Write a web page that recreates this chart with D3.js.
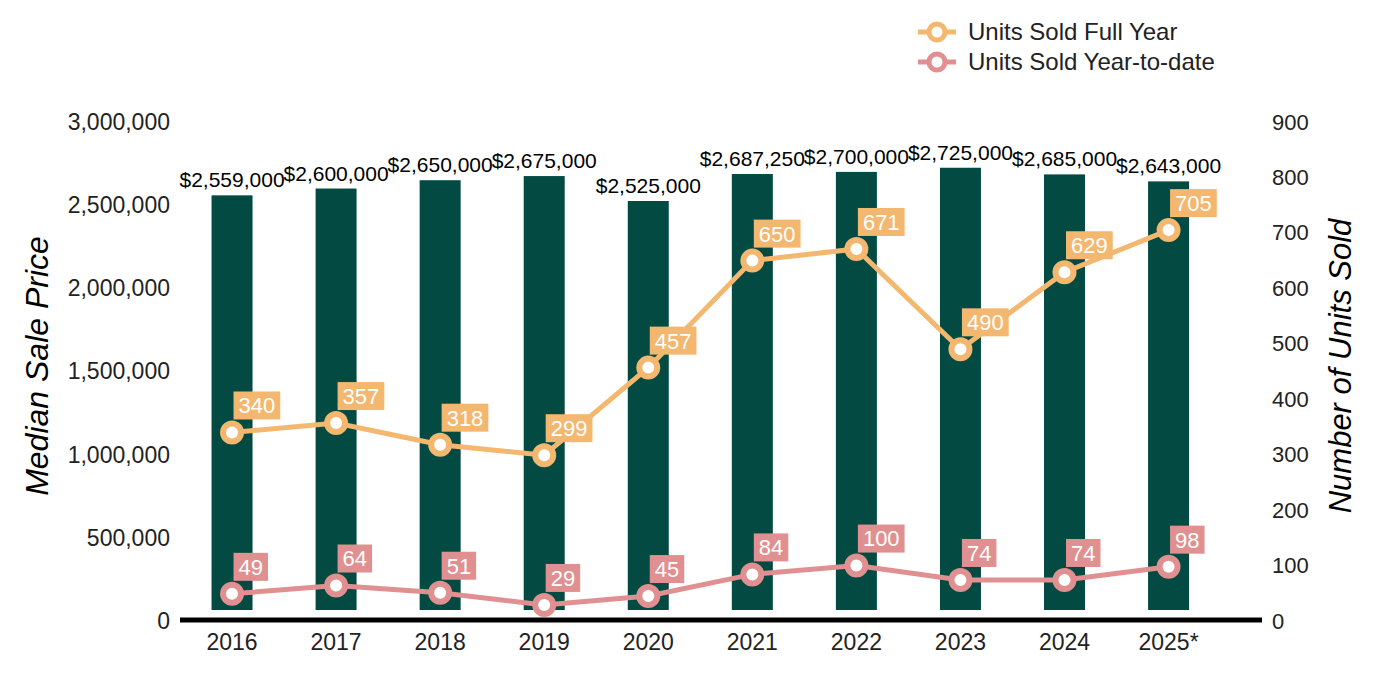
<!DOCTYPE html>
<html>
<head>
<meta charset="utf-8">
<script src="https://cdn.jsdelivr.net/npm/d3@7"></script>
<style>
  body { margin: 0; background: #fff; }
  text { font-family: "Liberation Sans", Arial, sans-serif; }
</style>
</head>
<body>
<div class="chart"></div>
<script>
// data
var years = ["2016", "2017", "2018", "2019", "2020", "2021", "2022", "2023", "2024", "2025*"];
var medianPrice = [2559000, 2600000, 2650000, 2675000, 2525000, 2687250, 2700000, 2725000, 2685000, 2643000];
var unitsFullYear = [340, 357, 318, 299, 457, 650, 671, 490, 629, 705];
var unitsYTD = [49, 64, 51, 29, 45, 84, 100, 74, 74, 98];
var priceTicks = [0, 500000, 1000000, 1500000, 2000000, 2500000, 3000000];
var unitTicks = [0, 100, 200, 300, 400, 500, 600, 700, 800, 900];

var svgWidth = 1400;
var svgHeight = 700;

var barColor = "#034b42";
var fullColor = "#f4b76f";
var ytdColor = "#e09090";
var textColor = "#222";

var svg = d3.select(".chart")
  .append("svg")
  .attr("width", svgWidth)
  .attr("height", svgHeight);

// scales
var xScale = d3.scaleBand()
  .domain(years)
  .range([180, 1220.6])
  .paddingInner(0.6)
  .paddingOuter(0.3);

var yPrice = d3.scaleLinear()
  .domain([0, 3000000])
  .range([621, 122]);

var yUnits = d3.scaleLinear()
  .domain([0, 900])
  .range([621, 122]);

var cx = d => xScale(d) + xScale.bandwidth() / 2;
var barW = 41;

// left axis
var leftAxis = d3.axisLeft(yPrice)
  .tickValues(priceTicks)
  .tickSize(0)
  .tickPadding(0)
  .tickFormat(d3.format(","));

var leftG = svg.append("g")
  .attr("transform", "translate(170,0)")
  .call(leftAxis);
leftG.select(".domain").remove();
leftG.selectAll("text")
  .attr("font-size", 23)
  .attr("fill", textColor)
  .attr("font-family", "Liberation Sans, Arial, sans-serif");

// right axis
var rightAxis = d3.axisRight(yUnits)
  .tickValues(unitTicks)
  .tickSize(0)
  .tickPadding(0);

var rightG = svg.append("g")
  .attr("transform", "translate(1272,0)")
  .call(rightAxis);
rightG.select(".domain").remove();
rightG.selectAll("text")
  .attr("font-size", 22)
  .attr("fill", textColor)
  .attr("font-family", "Liberation Sans, Arial, sans-serif");

// bars
svg.append("g").selectAll("rect")
  .data(medianPrice)
  .enter()
  .append("rect")
  .attr("x", (d, i) => cx(years[i]) - barW / 2)
  .attr("y", d => yPrice(d))
  .attr("width", barW)
  .attr("height", d => yPrice(0) - 11 - yPrice(d))
  .attr("fill", barColor);

// bar value labels
svg.append("g").selectAll("text")
  .data(medianPrice)
  .enter()
  .append("text")
  .attr("x", (d, i) => cx(years[i]))
  .attr("y", d => yPrice(d) - 8)
  .attr("text-anchor", "middle")
  .attr("font-size", 21)
  .attr("fill", "#000")
  .text(d => "$" + d3.format(",")(d));

// x axis line
svg.append("line")
  .attr("x1", 180)
  .attr("x2", 1262)
  .attr("y1", yPrice(0) - 1)
  .attr("y2", yPrice(0) - 1)
  .attr("stroke", "#000")
  .attr("stroke-width", 5);

// x labels
svg.append("g").selectAll("text")
  .data(years)
  .enter()
  .append("text")
  .attr("x", d => cx(d))
  .attr("y", 642)
  .attr("dy", "0.35em")
  .attr("text-anchor", "middle")
  .attr("font-size", 23)
  .attr("fill", textColor)
  .text(d => d);

// line series
function drawSeries(values, color) {
  var line = d3.line()
    .x((d, i) => cx(years[i]))
    .y(d => yUnits(d));

  svg.append("path")
    .datum(values)
    .attr("d", line)
    .attr("fill", "none")
    .attr("stroke", color)
    .attr("stroke-width", 5);

  // value boxes
  var labels = svg.append("g").selectAll("g")
    .data(values)
    .enter()
    .append("g")
    .attr("transform", (d, i) => `translate(${cx(years[i]) + 1.5}, ${yUnits(d) - 13})`);

  labels.append("text")
    .attr("x", 5)
    .attr("y", -14)
    .attr("dy", "0.36em")
    .attr("font-size", 22)
    .attr("fill", "#fff")
    .text(d => d);

  labels.each(function() {
    var g = d3.select(this);
    var w = g.select("text").node().getComputedTextLength();
    g.insert("rect", "text")
      .attr("x", 0)
      .attr("y", -28)
      .attr("width", w + 10)
      .attr("height", 28)
      .attr("fill", color);
  });

  svg.append("g").selectAll("circle")
    .data(values)
    .enter()
    .append("circle")
    .attr("cx", (d, i) => cx(years[i]))
    .attr("cy", d => yUnits(d))
    .attr("r", 9)
    .attr("fill", "#fff")
    .attr("stroke", color)
    .attr("stroke-width", 6);
}

drawSeries(unitsFullYear, fullColor);
drawSeries(unitsYTD, ytdColor);

// axis titles
svg.append("text")
  .attr("transform", "translate(37,366) rotate(-90)")
  .attr("text-anchor", "middle")
  .attr("dominant-baseline", "central")
  .attr("font-size", 32)
  .attr("font-style", "italic")
  .attr("fill", "#000")
  .text("Median Sale Price");

svg.append("text")
  .attr("transform", "translate(1340,366) rotate(-90)")
  .attr("text-anchor", "middle")
  .attr("dominant-baseline", "central")
  .attr("font-size", 31)
  .attr("font-style", "italic")
  .attr("fill", "#000")
  .text("Number of Units Sold");

// legend
var legendItems = [
  { name: "Units Sold Full Year", color: fullColor },
  { name: "Units Sold Year-to-date", color: ytdColor }
];

var legend = svg.append("g").selectAll("g")
  .data(legendItems)
  .enter()
  .append("g")
  .attr("transform", (d, i) => `translate(918, ${32 + i * 30})`);

legend.append("line")
  .attr("x1", 0)
  .attr("x2", 38)
  .attr("stroke", d => d.color)
  .attr("stroke-width", 5);

legend.append("circle")
  .attr("cx", 19)
  .attr("r", 8)
  .attr("fill", "#fff")
  .attr("stroke", d => d.color)
  .attr("stroke-width", 5);

legend.append("text")
  .attr("x", 50)
  .attr("dy", "0.35em")
  .attr("font-size", 24)
  .attr("fill", textColor)
  .text(d => d.name);
</script>
</body>
</html>
